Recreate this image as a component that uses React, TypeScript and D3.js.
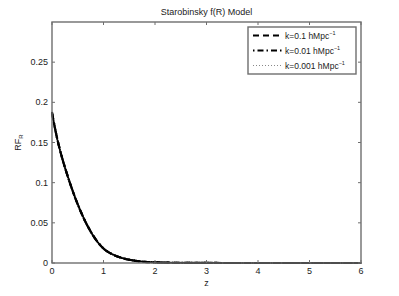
import React from 'react';
import * as d3 from 'd3';

// redshift samples and RF_R (the three k curves overlap)
const Z = [0, 0.1, 0.2, 0.3, 0.4, 0.5, 0.6, 0.7, 0.8, 0.9, 1.0, 1.2, 1.4, 1.6, 1.8, 2.0, 2.5, 3, 4, 5, 6];
const RF_K01 = [0.187, 0.155, 0.13, 0.109, 0.09, 0.073, 0.058, 0.045, 0.034, 0.025, 0.018, 0.01, 0.0055, 0.003, 0.0015, 0.0008, 0.0002, 0.00005, 0, 0, 0];
const RF_K001 = [0.187, 0.155, 0.13, 0.109, 0.09, 0.073, 0.058, 0.045, 0.034, 0.025, 0.018, 0.01, 0.0055, 0.003, 0.0015, 0.0008, 0.0002, 0.00005, 0, 0, 0];
const RF_K0001 = [0.187, 0.155, 0.13, 0.109, 0.09, 0.073, 0.058, 0.045, 0.034, 0.025, 0.018, 0.01, 0.0055, 0.003, 0.0015, 0.0008, 0.0002, 0.00005, 0, 0, 0];
const X_TICKS = [0, 1, 2, 3, 4, 5, 6];
const Y_TICKS = [0, 0.05, 0.1, 0.15, 0.2, 0.25];
const LEGEND = ['k=0.1 hMpc', 'k=0.01 hMpc', 'k=0.001 hMpc'];

const W = 399;
const H = 296;
const margin = { top: 22, right: 38, bottom: 33, left: 52 };
const FONT = 'Liberation Sans, Arial, sans-serif';

const series = [
  { values: RF_K01, dash: '6,4', cap: 'butt' },
  { values: RF_K001, dash: '7,3,1.5,3', cap: 'butt' },
  { values: RF_K0001, dash: '0.1,1.8', cap: 'round' },
];

export default function App() {
  const x = d3.scaleLinear().domain([0, 6]).range([margin.left, W - margin.right]);
  const y = d3.scaleLinear().domain([0, 0.3]).range([H - margin.bottom, margin.top]);
  const line = d3.line<number>()
    .x((_, i) => x(Z[i]))
    .y(d => y(d))
    .curve(d3.curveMonotoneX);

  const x0 = x(0), x1 = x(6), y0 = y(0), y1 = y(0.3);
  const axisColor = '#6e6e6e';

  const lx = 248, ly = 27, lw = 108, lh = 47;

  return (
    <svg width={W} height={H} style={{ position: 'absolute', left: 0, top: 0, background: '#fff' }} fontFamily={FONT}>
      <rect width={W} height={H} fill="#fff" />
      <text x={(x0 + x1) / 2} y={15} textAnchor="middle" fontSize={9} fill="#222">Starobinsky f(R) Model</text>

      {series.map((s, i) => (
        <path key={i} d={line(s.values) || ''} fill="none" stroke="#000" strokeWidth={2.2}
          strokeDasharray={s.dash} strokeLinecap={s.cap as any} />
      ))}

      {/* box */}
      <rect x={x0} y={y1} width={x1 - x0} height={y0 - y1} fill="none" stroke={axisColor} strokeWidth={1.4} />

      {X_TICKS.map(t => (
        <g key={'x' + t}>
          <line x1={x(t)} x2={x(t)} y1={y0} y2={y0 - 3} stroke={axisColor} />
          <line x1={x(t)} x2={x(t)} y1={y1} y2={y1 + 3} stroke={axisColor} />
          <text x={x(t)} y={y0 + 11} textAnchor="middle" fontSize={9} fill="#222">{t}</text>
        </g>
      ))}
      {Y_TICKS.map(t => (
        <g key={'y' + t}>
          <line x1={x0} x2={x0 + 3} y1={y(t)} y2={y(t)} stroke={axisColor} />
          <line x1={x1} x2={x1 - 3} y1={y(t)} y2={y(t)} stroke={axisColor} />
          <text x={x0 - 4} y={y(t) + 3} textAnchor="end" fontSize={9} fill="#222">{d3.format('~g')(t)}</text>
        </g>
      ))}

      <text x={(x0 + x1) / 2} y={286} textAnchor="middle" fontSize={9} fill="#222">z</text>
      <text transform={`translate(21,${(y0 + y1) / 2}) rotate(-90)`} textAnchor="middle" fontSize={9} fill="#222">
        RF<tspan fontSize={6} dy={2}>R</tspan>
      </text>

      {/* legend */}
      <rect x={lx} y={ly} width={lw} height={lh} fill="#fff" stroke={axisColor} strokeWidth={1.4} />
      {LEGEND.map((label, i) => {
        const ry = ly + 8.5 + i * 15;
        return (
          <g key={label}>
            <line x1={lx + 5} x2={lx + 35} y1={ry} y2={ry}
              stroke={i === 2 ? '#888' : '#000'}
              strokeWidth={i === 2 ? 1 : 2}
              strokeDasharray={i === 0 ? '6,4' : i === 1 ? '1.5,3,6,3' : '1,2'} />
            <text x={lx + 37} y={ry + 3} fontSize={8.5} fill="#222">
              {label}<tspan fontSize={5.5} dy={-4}>−1</tspan>
            </text>
          </g>
        );
      })}
    </svg>
  );
}
